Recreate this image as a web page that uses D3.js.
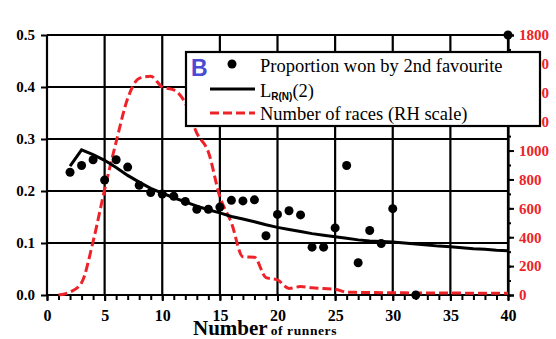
<!DOCTYPE html>
<html><head><meta charset="utf-8">
<script src="https://cdn.jsdelivr.net/npm/d3@7"></script>
<style>body{margin:0;background:#fff}svg{display:block}</style>
</head><body>
<script>
// Proportion won by 2nd favourite (left scale)
const runnersWon = [2,3,4,5,6,7,8,9,10,11,12,13,14,15,16,17,18,19,20,21,22,23,24,25,26,27,28,29,30,32,40];
const propWon = [0.236,0.249,0.260,0.221,0.260,0.246,0.211,0.197,0.194,0.190,0.180,0.165,0.165,0.169,0.182,0.181,0.183,0.114,0.155,0.162,0.154,0.092,0.092,0.129,0.249,0.062,0.124,0.099,0.166,0.0,0.5];
// L_R(N)(2) model line (left scale)
const runnersL = [2,3,4,5,6,7,8,9,10,11,12,13,14,15,16,17,18,19,20,21,22,23,24,25,26,27,28,29,30,31,32,33,34,35,36,37,38,39,40];
const lValues = [0.248,0.279,0.270,0.259,0.245,0.230,0.217,0.205,0.196,0.187,0.179,0.171,0.164,0.158,0.151,0.146,0.141,0.135,0.130,0.126,0.122,0.118,0.115,0.112,0.109,0.106,0.104,0.103,0.102,0.100,0.098,0.096,0.094,0.093,0.091,0.089,0.088,0.086,0.085];
// Number of races (right scale)
const runnersRaces = [1,2,3,4,5,6,7,8,9,10,11,12,13,14,15,16,17,18,19,20,21,22,23,24,25,26,27,28,29,30,31,32,33,34,35,36,37,38,39,40];
const races = [0,20,85,370,730,1060,1360,1500,1515,1440,1420,1330,1120,990,680,500,265,262,120,105,45,58,50,45,40,20,18,17,16,15,15,14,14,13,13,13,12,12,12,12];
const xTicks = [0,5,10,15,20,25,30,35,40];
const yTicks = [0.0,0.1,0.2,0.3,0.4,0.5];
const y2Ticks = [0,200,400,600,800,1000,1200,1400,1600,1800];
const legendLabels = ["Proportion won by 2nd favourite","L","Number of races (RH scale)"];

const W=556,H=339;
const red="#ee2229";
const svg=d3.select("body").append("svg").attr("width",W).attr("height",H);
const x=d3.scaleLinear().domain([0,40]).range([47,508]);
const y=d3.scaleLinear().domain([0,0.5]).range([295,35]);
const y2=d3.scaleLinear().domain([0,1800]).range([295,35]);
const serif="Liberation Serif, Times New Roman, serif";

// grid
const g=svg.append("g");
g.selectAll(".vg").data(xTicks).join("line").attr("x1",d=>x(d)).attr("x2",d=>x(d)).attr("y1",y(0.5)).attr("y2",y(0))
 .attr("stroke","#000").attr("stroke-width",2.2);
g.selectAll(".hg").data(yTicks).join("line").attr("x1",x(0)).attr("x2",x(40)).attr("y1",d=>y(d)).attr("y2",d=>y(d))
 .attr("stroke","#000").attr("stroke-width",2.2);

// left axis
const ax=svg.append("g").attr("transform",`translate(${x(0)},0)`)
 .call(d3.axisLeft(y).tickValues(yTicks).tickFormat(d3.format(".1f")).tickSize(6).tickPadding(6));
ax.attr("font-family",serif);
ax.select(".domain").remove();
ax.selectAll("line").attr("stroke","#000").attr("stroke-width",2);
ax.selectAll("text").attr("font-family",serif).attr("font-weight","bold").attr("font-size",15).attr("fill","#000");

// bottom axis minor + major
const bx=svg.append("g").attr("transform",`translate(0,${y(0)})`)
 .call(d3.axisBottom(x).tickValues(d3.range(0,41)).tickSize(5).tickFormat(""));
bx.select(".domain").remove();
bx.selectAll("line").attr("stroke","#000").attr("stroke-width",2);
const bx2=svg.append("g").attr("transform",`translate(0,${y(0)})`)
 .call(d3.axisBottom(x).tickValues(xTicks).tickSize(6).tickPadding(9));
bx2.attr("font-family",serif);
bx2.select(".domain").remove();
bx2.selectAll("line").attr("stroke","#000").attr("stroke-width",2);
bx2.selectAll("text").attr("font-family",serif).attr("font-weight","bold").attr("font-size",16).attr("fill","#000");

// right axis
const rx=svg.append("g").attr("transform",`translate(${x(40)},0)`)
 .call(d3.axisRight(y2).tickValues(d3.range(0,1801,100)).tickSize(3).tickFormat(""));
rx.select(".domain").remove();
rx.selectAll("line").attr("stroke","#000").attr("stroke-width",2);
const rx2=svg.append("g").attr("transform",`translate(${x(40)},0)`)
 .call(d3.axisRight(y2).tickValues(y2Ticks).tickFormat(d3.format("d")).tickSize(6).tickPadding(5));
rx2.attr("font-family",serif);
rx2.select(".domain").attr("stroke","#000").attr("stroke-width",2.2);
rx2.selectAll("line").attr("stroke","#000").attr("stroke-width",2);
rx2.selectAll("text").attr("font-family",serif).attr("font-weight","bold").attr("font-size",15).attr("fill",red);

// races (dashed red)
svg.append("path").datum(runnersRaces.map((r,i)=>[r,races[i]]))
 .attr("d",d3.line().x(d=>x(d[0])).y(d=>y2(d[1])).curve(d3.curveMonotoneX))
 .attr("fill","none").attr("stroke",red).attr("stroke-width",3).attr("stroke-dasharray","9,4");

// model line
svg.append("path").datum(runnersL.map((r,i)=>[r,lValues[i]]))
 .attr("d",d3.line().x(d=>x(d[0])).y(d=>y(d[1])))
 .attr("fill","none").attr("stroke","#000").attr("stroke-width",3);

// dots
svg.selectAll(".dot").data(runnersWon.map((r,i)=>[r,propWon[i]])).join("circle")
 .attr("cx",d=>x(d[0])).attr("cy",d=>y(d[1])).attr("r",4.5).attr("fill","#000");

// x title
const t=svg.append("text").attr("x",193).attr("y",335).attr("font-family",serif).attr("font-weight","bold").attr("fill","#000");
t.append("tspan").attr("font-size",21).text("Number");
t.append("tspan").attr("font-size",13.5).attr("dx",3).attr("letter-spacing",0.6).text("of runners");

// legend
const lg=svg.append("g");
lg.append("rect").attr("x",186).attr("y",52).attr("width",354).attr("height",74).attr("fill","#fff").attr("stroke","#000").attr("stroke-width",2.2);
lg.append("text").attr("x",191).attr("y",76).attr("font-family","Liberation Sans, Arial, sans-serif").attr("font-weight","bold").attr("font-size",23).attr("fill","#4a4ad2").text("B");
lg.append("circle").attr("cx",232).attr("cy",64).attr("r",4.5).attr("fill","#000");
lg.append("line").attr("x1",210).attr("x2",255).attr("y1",89).attr("y2",89).attr("stroke","#000").attr("stroke-width",3);
lg.append("line").attr("x1",210).attr("x2",255).attr("y1",113).attr("y2",113).attr("stroke",red).attr("stroke-width",3).attr("stroke-dasharray","9,4");
lg.append("text").attr("x",260).attr("y",72).attr("font-family",serif).attr("font-size",18.5).attr("fill","#000").text(legendLabels[0]);
const lt=lg.append("text").attr("x",260).attr("y",97).attr("font-family",serif).attr("font-size",18.5).attr("fill","#000");
lt.append("tspan").text(legendLabels[1]);
lt.append("tspan").attr("dy",3).attr("font-family","Liberation Sans, Arial, sans-serif").attr("font-weight","bold").attr("font-size",10).text("R(N)");
lt.append("tspan").attr("dy",-3).text("(2)");
lg.append("text").attr("x",260).attr("y",120).attr("font-family",serif).attr("font-size",18.5).attr("fill","#000").text(legendLabels[2]);
</script>
</body></html>
